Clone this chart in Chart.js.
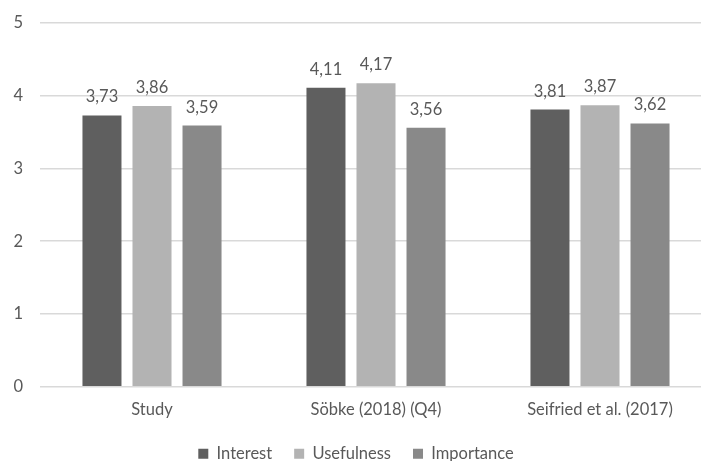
<!DOCTYPE html>
<html>
<head>
<meta charset="utf-8">
<script src="https://cdn.jsdelivr.net/npm/chart.js@4"></script>
<style>
  html, body { margin: 0; padding: 0; background: #fff; overflow: hidden; }
  #wrap { width: 742px; height: 461px; }
</style>
</head>
<body>
<div id="wrap"><canvas id="grafico" width="742" height="461"></canvas></div>
<script>
const categorias = ['Study', 'Söbke (2018) (Q4)', 'Seifried et al. (2017)'];
const interesse = [3.73, 4.11, 3.81];
const utilidade = [3.86, 4.17, 3.87];
const importancia = [3.59, 3.56, 3.62];
const ticksY = [0, 1, 2, 3, 4, 5];

const corTexto = '#595959';
const fonte = 'Lato, "Open Sans", sans-serif';
const tamanho = 16.5;

// rótulos de valor em cima das barras
const rotulosBarras = {
    id: 'rotulosBarras',
    afterDatasetsDraw(chart) {
        const ctx = chart.ctx;
        ctx.save();
        ctx.font = tamanho + 'px ' + fonte;
        ctx.fillStyle = corTexto;
        ctx.textAlign = 'center';
        ctx.textBaseline = 'alphabetic';
        chart.data.datasets.forEach((ds, i) => {
            chart.getDatasetMeta(i).data.forEach((barra, j) => {
                const texto = ds.data[j].toFixed(2).replace('.', ',');
                ctx.fillText(texto, barra.x, barra.y - 13);
            });
        });
        ctx.restore();
    }
};

// sobe um pouco a legenda sem mexer no espaçamento horizontal
const ajusteLegenda = {
    id: 'ajusteLegenda',
    afterLayout(chart) {
        chart.legend.top -= 9;
        chart.legend.bottom -= 9;
    }
};

Chart.defaults.font.family = fonte;
Chart.defaults.color = corTexto;

new Chart(document.getElementById('grafico').getContext('2d'), {
    type: 'bar',
    data: {
        labels: categorias,
        datasets: [
            { label: 'Interest', data: interesse, backgroundColor: '#5f5f5f' },
            { label: 'Usefulness', data: utilidade, backgroundColor: '#b3b3b3' },
            { label: 'Importance', data: importancia, backgroundColor: '#898989' }
        ]
    },
    options: {
        responsive: false,
        animation: false,
        devicePixelRatio: 1,
        categoryPercentage: 0.67,
        barPercentage: 0.78,
        layout: { padding: { top: 23, right: 30, bottom: -20, left: 0 } },
        scales: {
            x: {
                grid: { display: false, drawTicks: false },
                border: { display: false },
                ticks: { font: { size: tamanho }, padding: 13, color: corTexto }
            },
            y: {
                min: 0,
                max: 5,
                afterFit(escala) {
                    escala.width = 40;
                    escala.paddingTop = 0;
                    escala.paddingBottom = 0;
                },
                afterBuildTicks(escala) { escala.ticks = ticksY.map(v => ({ value: v })); },
                grid: { color: '#d9d9d9', lineWidth: 1.5, drawTicks: false },
                border: { display: false },
                ticks: { font: { size: tamanho }, padding: 17, color: corTexto }
            }
        },
        plugins: {
            legend: {
                position: 'bottom',
                labels: {
                    boxWidth: 10,
                    boxHeight: 10,
                    padding: 22,
                    font: { size: tamanho },
                    color: corTexto
                }
            },
            tooltip: { enabled: false }
        }
    },
    plugins: [rotulosBarras, ajusteLegenda]
});
</script>
</body>
</html>
